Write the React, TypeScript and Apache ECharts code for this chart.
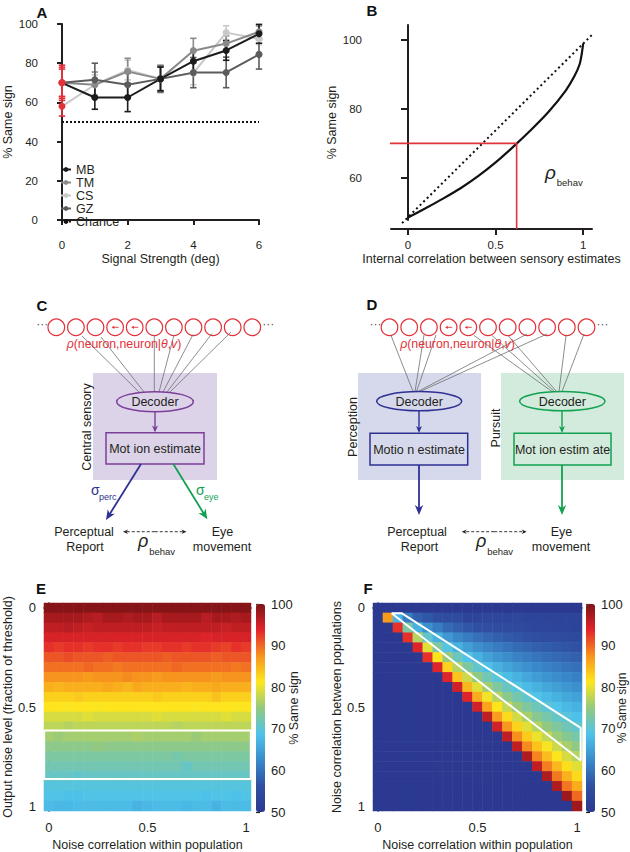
import React, { useEffect, useRef } from 'react';
import * as echarts from 'echarts';

const FONT = '"Liberation Sans", Arial, Helvetica, sans-serif';
const INK = '#231f20';
const RED = '#e2323a';

// ---------- Panel A : % same sign vs signal strength ----------
const signalStrength = [0, 1, 2, 3, 4, 5, 6];
const subjectNames = ['MB', 'TM', 'CS', 'GZ'];
const subjectColors = ['#1c1c1c', '#8a8a8a', '#c9c9c9', '#5c5c5c'];
const mbMean = [70, 62.5, 62.5, 72, 81, 86.5, 95];
const mbErr = [9, 6, 7.2, 6, 5.5, 5, 4.8];
const tmMean = [70, 69, 75.7, 72, 86.4, 90, 96];
const tmErr = [7, 6.5, 6.8, 7, 6.3, 4, 3];
const csMean = [58, 69, 76.5, 72, 75, 95.6, 92.5];
const csErr = [5, 5, 5, 6, 6, 3.5, 3];
const gzMean = [70, 71.5, 69, 72, 75.2, 75.3, 84.5];
const gzErr = [8, 8.5, 6, 6.5, 7.7, 7.8, 7.5];
const chanceLevel = 50;
const aXTicks = [0, 2, 4, 6];

// ---------- Panel B : % same sign vs internal correlation ----------
const corrX = [0, 0.1, 0.2, 0.3, 0.4, 0.5, 0.6, 0.7, 0.8, 0.9, 0.95, 0.98, 0.99, 1.0];
const sameSignY = [48.5, 51.2, 54, 57, 60.5, 64.5, 69, 73.8, 79, 85.3, 89.5, 93, 95.5, 99];
const identityX = [-0.034, 1.051];
const identityY = [46.9, 101.5];
const behavCorr = 0.62;
const behavSame = 70;
const bAxisCrossX = -0.2;
const bAxisCrossY = 45.2;
const bXTicks = [0, 0.5, 1];
const bYTicks = [60, 80, 100];

// ---------- Panels E, F : heatmaps ----------
const corrSteps = ['0', '0.05', '0.1', '0.15', '0.2', '0.25', '0.3', '0.35', '0.4', '0.45', '0.5',
  '0.55', '0.6', '0.65', '0.7', '0.75', '0.8', '0.85', '0.9', '0.95', '1'];
const corrTickLabels = ['0', '0.5', '1'];
const colorTicks = [50, 60, 70, 80, 90, 100];

const eRows = [
  [99.5, 99.5, 99.5, 99.5, 99.5, 99.5, 99.5, 99.5, 99.5, 99.5, 99.5, 99.5, 99.5, 99.5, 99.5, 99.5, 99.5, 99.5, 99.5, 99.5, 99.5],
  [97.5, 97.5, 97.5, 97.5, 97, 96.5, 97.5, 97.5, 97, 97.5, 97.5, 96.5, 97.5, 97.5, 97.5, 97.5, 96.5, 97.5, 97.5, 97, 97.5],
  [96, 96, 96.5, 96, 95.5, 96, 96, 96, 96, 96, 96, 95.5, 96, 96, 96, 96, 96, 96, 95.5, 96, 96],
  [94.5, 94.5, 94.5, 94.5, 94.5, 94.5, 94.5, 94.5, 94.5, 94.5, 94.5, 94.5, 94.5, 94.5, 94.5, 94.5, 94, 94.5, 94.5, 94.5, 94.5],
  [93, 92.5, 93, 93, 92.5, 93, 93, 92.5, 93, 93, 92.5, 92.5, 93, 93, 92.5, 93, 93, 92.5, 92, 93, 92.5],
  [91, 91, 91.5, 91, 91, 91, 90.5, 91, 91, 91, 91, 91, 90.5, 91, 91, 91, 91, 90.5, 91, 91, 91],
  [89.5, 89.5, 89.5, 89.5, 90, 89.5, 89.5, 89, 89.5, 89.5, 89.5, 89.5, 89.5, 90, 89.5, 89.5, 89.5, 89.5, 89.5, 89, 89.5],
  [87.5, 87.5, 87.5, 87.5, 87, 87.5, 87.5, 87.5, 88, 87.5, 87.5, 87, 87.5, 87.5, 87.5, 87.5, 87.5, 87, 87.5, 87.5, 87.5],
  [85.5, 85, 85.5, 85.5, 85.5, 85.5, 86, 85.5, 85, 86, 85.5, 85.5, 85.5, 85.5, 85, 85.5, 85.5, 86, 85.5, 85.5, 85.5],
  [83, 83, 83, 83.5, 83, 83, 83, 83, 83, 83, 83, 83.5, 83, 83, 83, 83, 83, 84, 83, 83, 83],
  [81.5, 81.5, 81, 81.5, 81.5, 81, 81.5, 81.5, 81.5, 81.5, 81.5, 81.5, 81.5, 81.5, 81.5, 81, 81.5, 81.5, 81.5, 81, 81.5],
  [79, 79, 79, 79, 79.5, 79, 79, 79, 79, 79, 79, 79.5, 79, 79, 79, 79, 79, 79, 79.5, 79, 79],
  [77.5, 77.5, 77, 77.5, 77.5, 77.5, 77.5, 77.5, 77.5, 77.5, 77.5, 77.5, 77.5, 77, 77.5, 77.5, 77.5, 77.5, 77.5, 77.5, 77.5],
  [76, 75.5, 76, 76, 76, 76, 76, 76, 76, 76.5, 76, 76, 76, 76, 76, 75.5, 76, 76, 76, 76, 76],
  [74.5, 74.5, 74.5, 74.5, 74.5, 75, 74.5, 74.5, 74.5, 74.5, 74.5, 74.5, 74.5, 74.5, 74.5, 74.5, 74.5, 74.5, 74.5, 74.5, 74.5],
  [73, 73, 73, 73, 73, 73, 73, 73, 73, 73, 73, 73, 73, 72.5, 73, 73, 73, 73, 73, 73, 73],
  [72, 72, 72, 72, 72, 72, 72, 72, 72, 72, 72, 72, 72, 72, 71, 72, 72, 72, 72, 72, 72],
  [71, 71, 71, 70.5, 71, 71, 71, 71, 71, 71, 71, 71, 71, 71, 71, 71, 71, 71, 71, 71, 71],
  [69.5, 69.5, 69.5, 69.5, 69.5, 69.5, 69.5, 69.5, 69.5, 69.5, 69.5, 69.5, 69.5, 69.5, 69.5, 69.5, 69.5, 69.5, 69.5, 69.5, 69.5],
  [69, 69, 68.5, 68.5, 69, 69, 69, 69, 69, 69, 69, 69, 69, 69, 69, 69, 68.5, 69, 69, 68.5, 69],
  [68, 67.5, 67.5, 68, 68, 68, 68, 68, 68, 67, 67.5, 68, 68, 68, 67.5, 68, 68, 67, 68, 68, 68],
];
const eBoxWithin = [-0.024, 1.024];
const eBoxNoise = [0.618, 0.864];

const fRows = [
  [50, 50, 50, 50, 50, 50, 50, 50, 50, 50, 50, 50, 50, 50, 50, 50, 50, 50, 50, 50, 50],
  [50, 87, 67, 61, 58, 57, 56, 55.5, 55, 53, 53, 54, 54, 53.5, 54, 53, 53.5, 53, 53, 53.5, 53],
  [50, 50, 93, 73, 66.7, 63, 61, 59, 58, 57, 56.4, 56, 55.5, 55, 54.6, 54.3, 54, 54, 53.5, 53.5, 53.2],
  [50, 50, 50, 93, 77, 70.5, 66.7, 64, 62.2, 60.8, 59.7, 58.8, 58, 57.4, 57, 56.4, 56, 55.7, 55.4, 55, 54.8],
  [50, 50, 50, 50, 94, 79.5, 73.2, 69.3, 66.7, 64.7, 63.1, 61.9, 60.8, 60, 59.2, 58.6, 58, 57.6, 57.1, 56.8, 56.4],
  [50, 50, 50, 50, 50, 93, 81.4, 75.3, 71.5, 68.8, 66.7, 65, 63.7, 62.6, 61.6, 60.8, 60.1, 59.5, 59, 58.5, 58],
  [50, 50, 50, 50, 50, 50, 94, 82.8, 77, 73.2, 70.5, 68.4, 66.7, 65.3, 64.1, 63.1, 62.2, 61.5, 60.8, 60.2, 59.7],
  [50, 50, 50, 50, 50, 50, 50, 94, 83.9, 78.4, 74.7, 71.9, 69.8, 68.1, 66.7, 65.5, 64.4, 63.5, 62.7, 62, 61.4],
  [50, 50, 50, 50, 50, 50, 50, 50, 95, 84.9, 79.5, 75.9, 73.2, 71.1, 69.3, 67.9, 66.7, 65.6, 64.7, 63.8, 63.1],
  [50, 50, 50, 50, 50, 50, 50, 50, 50, 94, 85.6, 80.5, 77, 74.3, 72.2, 70.5, 69, 67.7, 66.7, 65.7, 64.9],
  [50, 50, 50, 50, 50, 50, 50, 50, 50, 50, 95, 86.2, 81.4, 77.9, 75.3, 73.2, 71.5, 70, 68.8, 67.6, 66.7],
  [50, 50, 50, 50, 50, 50, 50, 50, 50, 50, 50, 96, 86.8, 82.2, 78.7, 76.2, 74, 72.4, 70.9, 69.6, 68.5],
  [50, 50, 50, 50, 50, 50, 50, 50, 50, 50, 50, 50, 95, 87.3, 82.8, 79.5, 77, 74.9, 73.2, 71.8, 70.5],
  [50, 50, 50, 50, 50, 50, 50, 50, 50, 50, 50, 50, 50, 96, 87.8, 83.4, 80.2, 77.7, 75.6, 73.9, 72.5],
  [50, 50, 50, 50, 50, 50, 50, 50, 50, 50, 50, 50, 50, 50, 96, 88, 83.9, 80.9, 78.4, 76.3, 74.7],
  [50, 50, 50, 50, 50, 50, 50, 50, 50, 50, 50, 50, 50, 50, 50, 97, 88.4, 84.4, 81.4, 78.9, 77],
  [50, 50, 50, 50, 50, 50, 50, 50, 50, 50, 50, 50, 50, 50, 50, 50, 96, 88.8, 84.9, 81.9, 79.5],
  [50, 50, 50, 50, 50, 50, 50, 50, 50, 50, 50, 50, 50, 50, 50, 50, 50, 97, 89, 85.3, 82.3],
  [50, 50, 50, 50, 50, 50, 50, 50, 50, 50, 50, 50, 50, 50, 50, 50, 50, 50, 97, 89.2, 85.6],
  [50, 50, 50, 50, 50, 50, 50, 50, 50, 50, 50, 50, 50, 50, 50, 50, 50, 50, 50, 98, 89.9],
  [50, 50, 50, 50, 50, 50, 50, 50, 50, 50, 50, 50, 50, 50, 50, 50, 50, 50, 50, 50, 98],
];
const fPolyWithin = [0.0685, 0.1185, 1.0185, 1.0185, 0.0685];
const fPolyBetween = [0.0265, 0.0265, 0.605, 0.77, 0.0265];

const jet = ['#2b3990', '#2f4fa2', '#3a8bcb', '#4ec3ea', '#93c97f', '#fde71d', '#f7941d', '#e3242b', '#7e1416'];

// ---------- helpers for diagram graphics ----------
type Any = any;
function txt(x: number, y: number, text: string, o: Any = {}): Any {
  return {
    type: 'text', x, y, rotation: o.rot || 0, silent: true, z: 10,
    style: {
      text, fill: o.color || INK, fontFamily: FONT, fontSize: o.size || 12.5,
      fontWeight: o.weight || 'normal', fontStyle: o.italic ? 'italic' : 'normal',
      align: o.align || 'center', verticalAlign: o.va || 'middle', rich: o.rich,
    },
  };
}
function ln(x1: number, y1: number, x2: number, y2: number, stroke: string, lineWidth = 1, lineDash?: number[]): Any {
  return { type: 'line', silent: true, z: 5, shape: { x1, y1, x2, y2 }, style: { stroke, lineWidth, lineDash } };
}
function arrow(x1: number, y1: number, x2: number, y2: number, color: string, lw = 1.6, hl = 9, hw = 4, dash?: number[]): Any[] {
  const dx = x2 - x1, dy = y2 - y1, L = Math.hypot(dx, dy);
  const ux = dx / L, uy = dy / L, nx = -uy, ny = ux;
  const bx = x2 - ux * hl, by = y2 - uy * hl;
  return [
    ln(x1, y1, x2 - ux * hl * 0.6, y2 - uy * hl * 0.6, color, lw, dash),
    {
      type: 'polygon', silent: true, z: 6,
      shape: { points: [[x2, y2], [bx + nx * hw, by + ny * hw], [x2 - ux * hl * 0.7, y2 - uy * hl * 0.7], [bx - nx * hw, by - ny * hw]] },
      style: { fill: color },
    },
  ];
}
function dblArrow(x1: number, x2: number, y: number): Any[] {
  const mid = (x1 + x2) / 2;
  return [...arrow(mid, y, x1, y, INK, 0.9, 5, 2.2, [3, 2]), ...arrow(mid, y, x2, y, INK, 0.9, 5, 2.2, [3, 2])];
}
function neuronRow(x0: number, step: number, cy: number): Any[] {
  const out: Any[] = [];
  for (let i = 0; i < 11; i++) {
    const cx = x0 + step * i;
    out.push({ type: 'circle', silent: true, z: 5, shape: { cx, cy, r: 8.3 }, style: { stroke: RED, fill: 'none', lineWidth: 1.2 } });
    if (i === 3 || i === 4) {
      out.push(ln(cx + 3.5, cy, cx - 1, cy, RED, 0.9));
      out.push({ type: 'polygon', silent: true, z: 6, shape: { points: [[cx - 3.5, cy], [cx - 0.8, cy - 1.6], [cx - 0.8, cy + 1.6]] }, style: { fill: RED } });
    }
  }
  out.push(txt(x0 - 14, cy - 3, '···', { color: '#555', size: 12 }));
  out.push(txt(x0 + step * 10 + 16, cy - 3, '···', { color: '#555', size: 12 }));
  return out;
}
const rhoRich = { i: { fontStyle: 'italic', fontFamily: FONT, fontSize: 12.3, fill: RED } };
const rhoText = '{i|ρ}(neuron,neuron|{i|θ},{i|v})';

function rhoBehav(x: number, y: number, big: number): Any[] {
  // x = left edge of the rho glyph
  return [
    txt(x, y, 'ρ', { size: big, italic: true, align: 'left' }),
    txt(x + big * 0.62, y + 10, 'behav', { size: 9.5, align: 'left' }),
  ];
}

function diagramGraphics(): Any[] {
  const g: Any[] = [];
  const PURPLE = '#7b3f99', BLUE = '#2e3192', GREEN = '#12a150', GRAY = '#707070';
  // ---- C ----
  g.push({ type: 'rect', silent: true, z: 1, shape: { x: 93, y: 373, width: 124, height: 107 }, style: { fill: '#dcd3e9' } });
  g.push(...neuronRow(56.3, 19.6, 327.3));
  const cS = [[82, 336], [101, 337], [154.3, 336], [174, 335], [193, 334.5], [212, 333.5], [231, 332]];
  const cE = [[139, 392], [144, 392], [154.3, 392], [159, 392], [163, 392], [167, 392], [170, 392]];
  cS.forEach((s, i) => g.push(ln(s[0], s[1], cE[i][0], cE[i][1], GRAY, 0.8)));
  g.push(txt(124, 343.5, rhoText, { color: RED, size: 12.3, rich: rhoRich }));
  g.push(txt(87, 427, 'Central sensory', { rot: Math.PI / 2 }));
  g.push({ type: 'ellipse', silent: true, z: 5, shape: { cx: 155, cy: 401.7, rx: 38.3, ry: 10 }, style: { stroke: PURPLE, fill: 'none', lineWidth: 1.5 } });
  g.push(txt(155, 402, 'Decoder'));
  g.push(...arrow(155, 411.7, 155, 432.5, PURPLE, 1.4, 7, 3));
  g.push({ type: 'rect', silent: true, z: 5, shape: { x: 106, y: 432.7, width: 98, height: 31.3 }, style: { stroke: PURPLE, fill: 'none', lineWidth: 1.5 } });
  g.push(txt(155, 449, 'Mot ion estimate'));
  g.push(...arrow(141, 464, 106, 520, BLUE, 1.8, 10, 4.2));
  g.push(...arrow(173.3, 464, 207.3, 519.3, GREEN, 1.8, 10, 4.2));
  g.push(txt(91, 490, 'σ', { color: BLUE, size: 14, align: 'left' }));
  g.push(txt(99, 497, 'perc', { color: BLUE, size: 9, align: 'left' }));
  g.push(txt(196, 490, 'σ', { color: GREEN, size: 14, align: 'left' }));
  g.push(txt(204, 497, 'eye', { color: GREEN, size: 9, align: 'left' }));
  g.push(txt(84, 532, 'Perceptual'));
  g.push(txt(85, 547, 'Report'));
  g.push(txt(222.5, 532, 'Eye'));
  g.push(txt(222, 547, 'movement'));
  g.push(...dblArrow(123, 186.5, 531.7));
  g.push(...rhoBehav(138, 541, 18));

  // ---- D ----
  g.push({ type: 'rect', silent: true, z: 1, shape: { x: 358, y: 373, width: 123, height: 107 }, style: { fill: '#d6d9ec' } });
  g.push({ type: 'rect', silent: true, z: 1, shape: { x: 501, y: 373, width: 123, height: 107 }, style: { fill: '#d3ebdc' } });
  g.push(...neuronRow(389.5, 19.7, 327.3));
  const dLS = [[391, 335.5], [424, 335], [436, 335], [527, 334], [547, 334]];
  const dLE = [[413, 391.5], [415, 391.5], [416.5, 391.5], [418, 391.5], [420, 391.5]];
  dLS.forEach((s, i) => g.push(ln(s[0], s[1], dLE[i][0], dLE[i][1], GRAY, 0.8)));
  const dRS = [[474, 335.5], [492, 335.5], [508, 335.5], [566, 335.5], [584, 334]];
  const dRE = [[552, 391.5], [554.5, 391.5], [556.5, 391.5], [559, 391.5], [562, 391.5]];
  dRS.forEach((s, i) => g.push(ln(s[0], s[1], dRE[i][0], dRE[i][1], GRAY, 0.8)));
  g.push(txt(457.5, 344, rhoText, { color: RED, size: 12.3, rich: rhoRich }));
  g.push(txt(353, 427, 'Perception', { rot: Math.PI / 2 }));
  g.push(txt(496, 428, 'Pursuit', { rot: Math.PI / 2 }));
  g.push({ type: 'ellipse', silent: true, z: 5, shape: { cx: 419.2, cy: 401.2, rx: 42.5, ry: 9.6 }, style: { stroke: BLUE, fill: 'none', lineWidth: 1.5 } });
  g.push({ type: 'ellipse', silent: true, z: 5, shape: { cx: 562.3, cy: 401.2, rx: 42.7, ry: 9.6 }, style: { stroke: GREEN, fill: 'none', lineWidth: 1.5 } });
  g.push(txt(419.2, 401.5, 'Decoder'));
  g.push(txt(562.3, 401.5, 'Decoder'));
  g.push(...arrow(419, 410.8, 419, 433, BLUE, 1.4, 7, 3));
  g.push(...arrow(562, 410.8, 562, 433, GREEN, 1.4, 7, 3));
  g.push({ type: 'rect', silent: true, z: 5, shape: { x: 370, y: 433.3, width: 97.7, height: 31.7 }, style: { stroke: BLUE, fill: 'none', lineWidth: 1.5 } });
  g.push({ type: 'rect', silent: true, z: 5, shape: { x: 514, y: 433.3, width: 97, height: 31.7 }, style: { stroke: GREEN, fill: 'none', lineWidth: 1.5 } });
  g.push(txt(419, 449.5, 'Motio n estimate'));
  g.push(txt(562.5, 449.5, 'Mot ion estim ate'));
  g.push(...arrow(419, 465, 419, 515, BLUE, 1.8, 10, 4.2));
  g.push(...arrow(562, 465, 562, 515, GREEN, 1.8, 10, 4.2));
  g.push(txt(417, 532, 'Perceptual'));
  g.push(txt(419.5, 547, 'Report'));
  g.push(txt(561.5, 532, 'Eye'));
  g.push(txt(561, 547, 'movement'));
  g.push(...dblArrow(461.7, 526.7, 531.7));
  g.push(...rhoBehav(476, 541, 18));

  // ---- B annotation ----
  g.push(...rhoBehav(545, 172, 19));

  // ---- panel letters ----
  const letters: [string, number, number][] = [['A', 42, 12], ['B', 372, 10], ['C', 42, 305], ['D', 372, 304], ['E', 41, 588], ['F', 368, 588]];
  letters.forEach(([t, x, y]) => g.push(txt(x, y, t, { size: 15, weight: 'bold', color: '#111' })));
  return g;
}

const axisFont = { fontFamily: FONT, color: INK };

export default function App() {
  const ref = useRef<HTMLDivElement>(null);
  useEffect(() => {
    if (!ref.current) return;
    const chart = echarts.init(ref.current, undefined, { renderer: 'svg' });

    const means = [mbMean, tmMean, csMean, gzMean];
    const errs = [mbErr, tmErr, csErr, gzErr];
    const drawOrder = [2, 1, 3, 0]; // CS, TM, GZ, MB (MB on top)

    const series: Any[] = [];
    // error bars
    drawOrder.forEach((k) => {
      const col = subjectColors[k];
      series.push({
        type: 'custom', name: subjectNames[k] + ' err', xAxisIndex: 0, yAxisIndex: 0, silent: true,
        data: signalStrength.map((x, i) => [x, means[k][i] - errs[k][i], means[k][i] + errs[k][i]]),
        renderItem: (params: Any, api: Any) => {
          const x = api.value(0);
          const top = api.coord([x, api.value(2)]);
          const bot = api.coord([x, api.value(1)]);
          const c = x === 0 ? RED : col;
          const w = 3.2;
          return {
            type: 'group', children: [
              { type: 'line', shape: { x1: top[0], y1: top[1], x2: bot[0], y2: bot[1] }, style: { stroke: c, lineWidth: 1.6 } },
              { type: 'line', shape: { x1: top[0] - w, y1: top[1], x2: top[0] + w, y2: top[1] }, style: { stroke: c, lineWidth: 1.6 } },
              { type: 'line', shape: { x1: bot[0] - w, y1: bot[1], x2: bot[0] + w, y2: bot[1] }, style: { stroke: c, lineWidth: 1.6 } },
            ],
          };
        },
      });
    });
    series.push({
      type: 'line', name: 'Chance', xAxisIndex: 0, yAxisIndex: 0, symbol: 'none', silent: true,
      data: [[signalStrength[0], chanceLevel], [signalStrength[signalStrength.length - 1], chanceLevel]],
      lineStyle: { color: '#111', width: 1.8, type: [2, 2] }, itemStyle: { color: '#111' },
    });
    drawOrder.forEach((k) => {
      const col = subjectColors[k];
      series.push({
        type: 'line', name: subjectNames[k], xAxisIndex: 0, yAxisIndex: 0, symbol: 'circle', symbolSize: 7, silent: true,
        data: signalStrength.map((x, i) => (i === 0 ? { value: [x, means[k][i]], itemStyle: { color: RED } } : [x, means[k][i]])),
        lineStyle: { color: col, width: 2 }, itemStyle: { color: col },
      });
    });
    // panel B
    series.push({
      type: 'line', name: 'identity', xAxisIndex: 1, yAxisIndex: 1, symbol: 'none', silent: true, clip: false,
      data: identityX.map((x, i) => [x, identityY[i]]), lineStyle: { color: '#111', width: 2, type: [2, 3] },
    });
    series.push({
      type: 'line', name: 'curve', xAxisIndex: 1, yAxisIndex: 1, symbol: 'none', silent: true, smooth: 0.2,
      data: corrX.map((x, i) => [x, sameSignY[i]]), lineStyle: { color: '#111', width: 2.2 },
    });
    series.push({
      type: 'line', name: 'rhoBehav', xAxisIndex: 1, yAxisIndex: 1, symbol: 'none', silent: true, clip: false,
      data: [[bAxisCrossX, behavSame], [behavCorr, behavSame], [behavCorr, bAxisCrossY]], lineStyle: { color: RED, width: 1.6 },
    });
    // panel E
    const eIdx = series.length;
    series.push({
      type: 'heatmap', xAxisIndex: 2, yAxisIndex: 2, silent: true, emphasis: { disabled: true },
      data: eRows.flatMap((row, r) => row.map((v, c) => [c, r, v])),
    });
    series.push({
      type: 'line', xAxisIndex: 3, yAxisIndex: 3, symbol: 'none', silent: true, z: 5,
      data: [[eBoxWithin[0], eBoxNoise[0]], [eBoxWithin[1], eBoxNoise[0]], [eBoxWithin[1], eBoxNoise[1]], [eBoxWithin[0], eBoxNoise[1]], [eBoxWithin[0], eBoxNoise[0]]],
      lineStyle: { color: '#ffffff', width: 2 },
    });
    // panel F
    const fIdx = series.length;
    series.push({
      type: 'heatmap', xAxisIndex: 4, yAxisIndex: 4, silent: true, emphasis: { disabled: true },
      data: fRows.flatMap((row, r) => row.map((v, c) => [c, r, v])),
    });
    series.push({
      type: 'line', xAxisIndex: 5, yAxisIndex: 5, symbol: 'none', silent: true, z: 5,
      data: fPolyWithin.map((x, i) => [x, fPolyBetween[i]]),
      lineStyle: { color: '#ffffff', width: 2 },
    });

    const catAxis = (gridIndex: number, isY: boolean, name: string, nameGap: number): Any => ({
      type: 'category', gridIndex, data: corrSteps, inverse: isY, boundaryGap: true,
      axisLine: { lineStyle: { color: INK, width: 1.6 } },
      axisTick: { length: 6, alignWithLabel: true, interval: (i: number) => corrTickLabels.includes(corrSteps[i]), lineStyle: { color: INK, width: 1.3 } },
      axisLabel: { ...axisFont, fontSize: 13, margin: isY ? 8 : 10, interval: (i: number) => corrTickLabels.includes(corrSteps[i]) },
      splitLine: { show: false },
      name, nameLocation: 'middle', nameGap, nameTextStyle: { ...axisFont, fontSize: 12.5 },
    });
    const hiddenVal = (gridIndex: number, inverse: boolean): Any => ({
      type: 'value', gridIndex, min: -0.025, max: 1.025, inverse, show: false, splitLine: { show: false },
    });
    const cbAxisY = (gridIndex: number, nameGap: number, nameSize: number): Any => ({
      type: 'value', gridIndex, position: 'right', min: colorTicks[0], max: colorTicks[colorTicks.length - 1], interval: 10,
      axisLine: { show: false }, axisTick: { show: true, length: 4, lineStyle: { color: INK, width: 1.2 } },
      axisLabel: { ...axisFont, fontSize: 13, margin: 6 }, splitLine: { show: false },
      name: '% Same sign', nameLocation: 'middle', nameGap, nameMoveOverlap: false,
      nameTextStyle: { ...axisFont, fontSize: nameSize },
    });

    const option: Any = {
      animation: false,
      backgroundColor: '#ffffff',
      textStyle: { fontFamily: FONT },
      grid: [
        { left: 62, top: 24, width: 197, height: 196 },
        { left: 391, top: 25, width: 201, height: 195 },
        { left: 43, top: 603, width: 208, height: 209 },
        { left: 373, top: 603, width: 209, height: 209 },
        { left: 256, top: 604, width: 9, height: 208 },
        { left: 586, top: 604, width: 9, height: 208 },
      ],
      xAxis: [
        {
          type: 'value', gridIndex: 0, min: 0, max: 6, interval: 2, offset: 9,
          axisLine: { lineStyle: { color: INK, width: 2 } }, axisTick: { length: 5, lineStyle: { width: 2 } },
          axisLabel: { ...axisFont, fontSize: 11.5, margin: 10, customValues: aXTicks }, splitLine: { show: false },
          name: 'Signal Strength (deg)', nameLocation: 'middle', nameGap: 23, nameTextStyle: { ...axisFont, fontSize: 12.5 },
        },
        {
          type: 'value', gridIndex: 1, min: -0.097, max: 1.05, offset: 9,
          axisLine: { lineStyle: { color: INK, width: 2 } },
          axisTick: { length: 6, lineStyle: { width: 2 }, customValues: bXTicks },
          axisLabel: { ...axisFont, fontSize: 11.5, margin: 10, customValues: bXTicks }, splitLine: { show: false },
          name: 'Internal correlation between sensory estimates', nameLocation: 'middle', nameGap: 23, nameTextStyle: { ...axisFont, fontSize: 12.5 },
        },
        catAxis(2, false, 'Noise correlation within population', 27),
        hiddenVal(2, false),
        catAxis(3, false, 'Noise correlation within population', 27),
        hiddenVal(3, false),
        { type: 'value', gridIndex: 4, min: 0, max: 1, show: false },
        { type: 'value', gridIndex: 5, min: 0, max: 1, show: false },
      ],
      yAxis: [
        {
          type: 'value', gridIndex: 0, min: 0, max: 100, interval: 20, offset: 18,
          axisLine: { show: true, lineStyle: { color: INK, width: 2 } }, axisTick: { show: true, length: 5, lineStyle: { width: 2 } },
          axisLabel: { ...axisFont, fontSize: 11.5, margin: 6 }, splitLine: { show: false },
          name: '% Same sign', nameLocation: 'middle', nameGap: 29, nameTextStyle: { ...axisFont, fontSize: 12.5 },
        },
        {
          type: 'value', gridIndex: 1, min: 47.8, max: 104.3, offset: 18,
          axisLine: { show: true, lineStyle: { color: INK, width: 2 } },
          axisTick: { show: true, length: 7, lineStyle: { width: 2 }, customValues: bYTicks },
          axisLabel: { ...axisFont, fontSize: 11.5, margin: 11, customValues: bYTicks }, splitLine: { show: false },
          name: '% Same sign', nameLocation: 'middle', nameGap: 30, nameTextStyle: { ...axisFont, fontSize: 12.5 },
        },
        catAxis(2, true, 'Output noise level (fraction of threshold)', 28),
        hiddenVal(2, true),
        catAxis(3, true, 'Noise correlation between populations', 28.5),
        hiddenVal(3, true),
        cbAxisY(4, 22, 12.5),
        cbAxisY(5, 21, 12),
      ],
      legend: {
        data: ['MB', 'TM', 'CS', 'GZ', 'Chance'], orient: 'vertical', left: 60, top: 163,
        itemWidth: 10, itemHeight: 6, itemGap: 0, padding: 0, selectedMode: false,
        textStyle: { ...axisFont, fontSize: 12.5 },
      },
      visualMap: [
        { type: 'continuous', min: 50, max: 100, seriesIndex: eIdx, left: 256, top: 604, itemWidth: 9, itemHeight: 208, padding: 0, calculable: false, hoverLink: false, inRange: { color: jet } },
        { type: 'continuous', min: 50, max: 100, seriesIndex: fIdx, left: 586, top: 604, itemWidth: 9, itemHeight: 208, padding: 0, calculable: false, hoverLink: false, inRange: { color: jet } },
      ],
      graphic: { elements: diagramGraphics() },
      series,
    };
    chart.setOption(option);
    return () => chart.dispose();
  }, []);
  return <div ref={ref} style={{ position: 'absolute', left: 0, top: 0, width: 630, height: 852 }} />;
}
